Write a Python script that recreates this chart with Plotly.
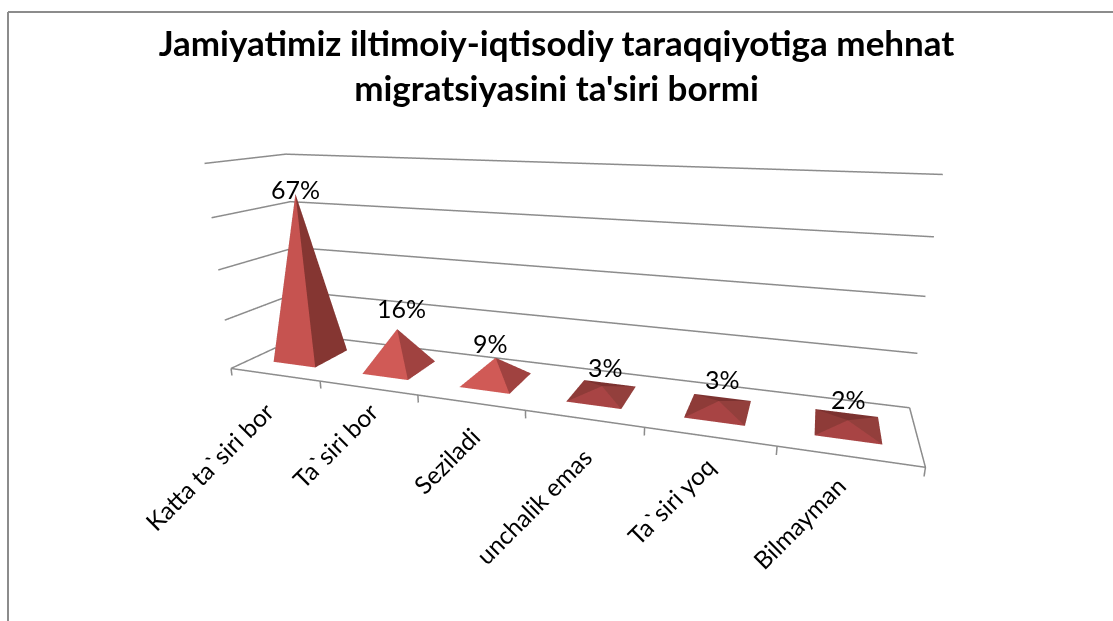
import plotly.graph_objects as go

categories = ["Katta ta`siri bor", "Ta`siri bor", "Seziladi", "unchalik emas", "Ta`siri yoq", "Bilmayman"]
values = [67, 16, 9, 3, 3, 2]
labels = ["67%", "16%", "9%", "3%", "3%", "2%"]
grid_levels = [0, 20, 40, 60, 80]

# Face colours of each pyramid
front_colors = ["#c65350", "#d05a56", "#d05a56", "#a84444", "#a84444", "#a84444"]
right_colors = ["#853632", "#a04240", "#a04240", "#933f3c", "#933f3c", "#933f3c"]
left_colors = ["#8e3b38"] * 6
back_colors = ["#7c3230"] * 6

# Nudges in pixels for the text, the labels do not sit evenly in the original
label_dx = [0, 4, -5, 3, 4, 1]
label_dy = [5, 21, 15, 19, 22, 21]
cat_dx = [7, 18, 18, 16, 15, 5]
cat_dy = [-19, -6, -16, -21, -12, -11]

W, H = 1113, 621
GREY = "#8c8c8c"
LINE = dict(color=GREY, width=3)

# Range sticks out a little past the walls, lines right on the clip bound get eaten
X_RANGE = [-0.52, 5.52]
Y_RANGE = [-0.02, 1.02]
Z_RANGE = [-3, 84]

fig = go.Figure()


def add_line(x, y, z):
    fig.add_trace(go.Scatter3d(x=x, y=y, z=z, mode="lines", line=LINE,
                               hoverinfo="skip", showlegend=False))


# Walls and floor
for level in grid_levels:
    add_line([-0.5, -0.5, 5.5], [0, 1, 1], [level, level, level])
add_line([-0.5, 5.5, 5.5], [0, 0, 1], [0, 0, 0])

# Tick marks between the categories
for i in range(len(categories) + 1):
    add_line([i - 0.5, i - 0.5], [0, 0], [0, -3])

# Pyramids
half = 0.24
vx, vy, vz, fi, fj, fk, fc = [], [], [], [], [], [], []
for n, v in enumerate(values):
    b = len(vx)
    vx += [n - half, n + half, n + half, n - half, n]
    vy += [0.5 - half, 0.5 - half, 0.5 + half, 0.5 + half, 0.5]
    vz += [0, 0, 0, 0, v]
    faces = [(3, 0, left_colors[n]), (2, 3, back_colors[n]),
             (1, 2, right_colors[n]), (0, 1, front_colors[n])]
    for p, q, color in faces:
        fi.append(b + p)
        fj.append(b + q)
        fk.append(b + 4)
        fc.append(color)

fig.add_trace(go.Mesh3d(x=vx, y=vy, z=vz, i=fi, j=fj, k=fk, facecolor=fc, flatshading=True,
                        lighting=dict(ambient=1, diffuse=0, specular=0, fresnel=0, roughness=1),
                        hoverinfo="skip", showlegend=False))

notes = []
for n, v in enumerate(values):
    notes.append(dict(x=n, y=0.5, z=v, text=labels[n], showarrow=False,
                      xshift=label_dx[n], yshift=label_dy[n],
                      font=dict(family="Lato", size=25, color="black")))
    notes.append(dict(x=n, y=0, z=0, text=categories[n], showarrow=False, textangle=-45,
                      xanchor="right", yanchor="top", xshift=cat_dx[n], yshift=cat_dy[n],
                      font=dict(family="Lato", size=24.5, color="black")))

fig.update_layout(
    width=W,
    height=H,
    margin=dict(l=0, r=0, t=0, b=0),
    paper_bgcolor="white",
    title=dict(text="<b>Jamiyatimiz iltimoiy-iqtisodiy taraqqiyotiga mehnat<br>migratsiyasini ta'siri bormi</b>",
               x=0.5, xanchor="center", y=0.91, yanchor="top",
               font=dict(family="Lato", size=35, color="black")),
    scene=dict(
        domain=dict(x=[0, 1], y=[0, 1]),
        xaxis=dict(range=X_RANGE, visible=False),
        yaxis=dict(range=Y_RANGE, visible=False),
        zaxis=dict(range=Z_RANGE, visible=False),
        aspectmode="manual",
        aspectratio=dict(x=1.51, y=0.2835, z=0.5217),
        camera=dict(eye=dict(x=0.5255, y=-1.4640, z=0.3864),
                    center=dict(x=0.0385, y=-0.0518, z=-0.0480),
                    up=dict(x=0.0017, y=0, z=1)),
        annotations=notes,
    ),
    # Chart frame, cut off at the right and the bottom in the original
    shapes=[
        dict(type="line", xref="paper", yref="paper", x0=8 / W, x1=8 / W, y0=0, y1=1 - 12 / H,
             line=dict(color=GREY, width=2)),
        dict(type="line", xref="paper", yref="paper", x0=8 / W, x1=1, y0=1 - 12 / H, y1=1 - 12 / H,
             line=dict(color=GREY, width=2)),
    ],
)

fig.write_html("out.html", post_script="document.body.style.margin='0';", config=dict(displayModeBar=False))
